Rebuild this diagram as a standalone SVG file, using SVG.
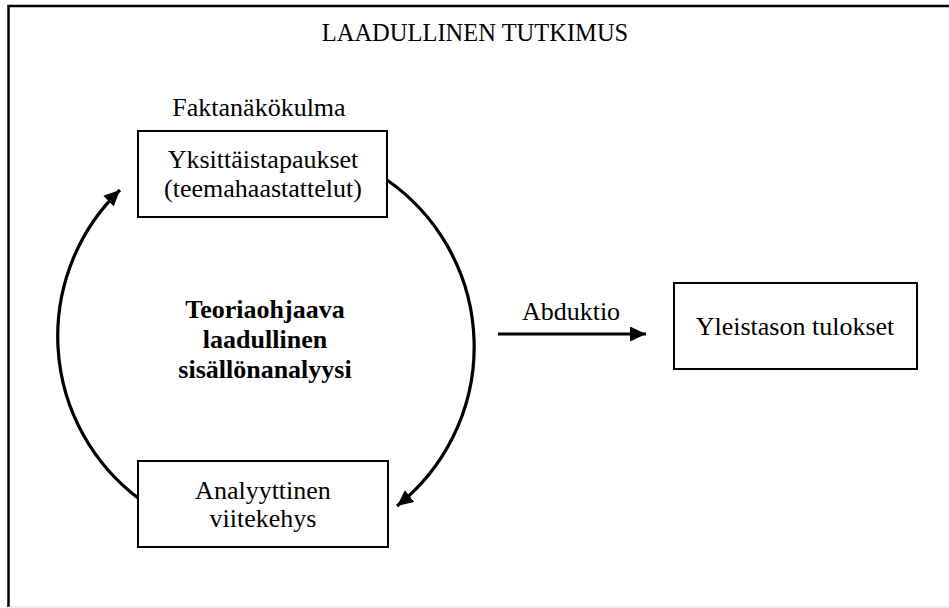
<svg xmlns="http://www.w3.org/2000/svg" width="949" height="608" viewBox="0 0 949 608">
<style>
  text { font-family: "Liberation Serif", "Times New Roman", serif; fill: #000; }
  .t { font-size: 26px; text-anchor: middle; }
  .h { font-size: 24.5px; text-anchor: middle; }
  .b { font-size: 26px; text-anchor: middle; font-weight: bold; }
  .box { fill: #fff; stroke: #000; stroke-width: 2; }
  .conn { fill: none; stroke: #000; stroke-width: 3.2; }
</style>
<defs>
  <marker id="ah" markerUnits="userSpaceOnUse" markerWidth="18" markerHeight="16" refX="16" refY="7.5" orient="auto">
    <path d="M0,0 L16,7.5 L0,15 z" fill="#000"/>
  </marker>
</defs>
<rect x="0" y="0" width="949" height="608" fill="#fff"/>
<g id="frame">
  <path d="M8.5,607 L8.5,6 L960,6" fill="none" stroke="#000" stroke-width="2.5"/>
  <line x1="8.5" y1="607" x2="949" y2="607" stroke="#ddd" stroke-width="1"/>
  <text class="h" x="475" y="41">LAADULLINEN TUTKIMUS</text>
</g>
<g id="connectors">
  <path class="conn" d="M387,180 A203,203 0 0 1 397,506" marker-end="url(#ah)"/>
  <path class="conn" d="M138,498 A203,203 0 0 1 120,190" marker-end="url(#ah)"/>
  <line class="conn" x1="498" y1="334" x2="646" y2="334" marker-end="url(#ah)"/>
  <text class="t" x="571" y="320">Abduktio</text>
</g>
<g id="top">
  <text class="t" x="259" y="116">Faktanäkökulma</text>
  <rect class="box" x="138" y="131" width="249" height="86"/>
  <text class="t" x="263" y="168">Yksittäistapaukset</text>
  <text class="t" x="263" y="197">(teemahaastattelut)</text>
</g>
<g id="bottom">
  <rect class="box" x="138" y="461" width="250" height="86"/>
  <text class="t" x="263" y="499">Analyyttinen</text>
  <text class="t" x="263" y="527">viitekehys</text>
</g>
<g id="center">
  <text class="b" x="265" y="318">Teoriaohjaava</text>
  <text class="b" x="265" y="348">laadullinen</text>
  <text class="b" x="265" y="378">sisällönanalyysi</text>
</g>
<g id="right">
  <rect class="box" x="674" y="283" width="243" height="86"/>
  <text class="t" x="795" y="335">Yleistason tulokset</text>
</g>
</svg>
